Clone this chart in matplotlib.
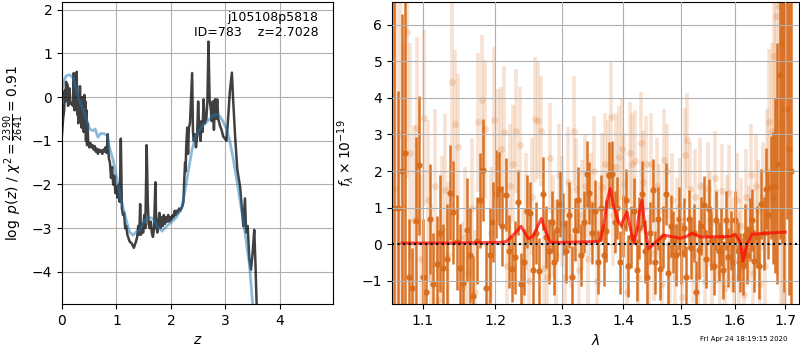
import numpy as np
import matplotlib
matplotlib.use("Agg")
import matplotlib.pyplot as plt
from matplotlib.ticker import NullLocator, FixedLocator, FixedFormatter

# ---- p(z) panel ----
z_pdf = [0.00, 0.02, 0.04, 0.05, 0.06, 0.075, 0.085, 0.095, 0.11, 0.125,
         0.14, 0.15, 0.165, 0.18, 0.20, 0.215, 0.225, 0.235, 0.245, 0.26,
         0.27, 0.28, 0.29, 0.30, 0.31, 0.32, 0.33, 0.34, 0.35, 0.36,
         0.37, 0.38, 0.39, 0.40, 0.41, 0.42, 0.43, 0.44, 0.45, 0.46,
         0.47, 0.48, 0.50, 0.52, 0.54, 0.56, 0.58, 0.60, 0.62, 0.64,
         0.66, 0.68, 0.70, 0.72, 0.74, 0.76, 0.78, 0.80, 0.82, 0.84,
         0.86, 0.88, 0.90, 0.92, 0.94, 0.96, 0.98, 1.00, 1.02, 1.04,
         1.06, 1.08, 1.10, 1.12, 1.14, 1.16, 1.18, 1.20, 1.24, 1.28,
         1.32, 1.36, 1.38, 1.40, 1.42, 1.435, 1.45, 1.47, 1.49, 1.51,
         1.53, 1.555, 1.575, 1.59, 1.61, 1.63, 1.65, 1.67, 1.69, 1.715,
         1.73, 1.75, 1.77, 1.79, 1.81, 1.83, 1.85, 1.87, 1.89, 1.91,
         1.93, 1.95, 1.97, 1.99, 2.01, 2.03, 2.05, 2.07, 2.09, 2.11,
         2.13, 2.15, 2.17, 2.19, 2.21, 2.23, 2.245, 2.26, 2.27, 2.28,
         2.30, 2.315, 2.33, 2.35, 2.37, 2.39, 2.405, 2.42, 2.44, 2.46,
         2.48, 2.50, 2.52, 2.545, 2.56, 2.58, 2.60, 2.62, 2.65, 2.67,
         2.69, 2.71, 2.73, 2.75, 2.77, 2.79, 2.81, 2.83, 2.85, 2.87,
         2.90, 2.93, 2.96, 2.99, 3.02, 3.05, 3.08, 3.12, 3.14, 3.18,
         3.22, 3.27, 3.31, 3.33, 3.36, 3.38, 3.41, 3.44, 3.47, 3.50,
         3.53, 3.55, 3.58]
logp = [-0.85, -0.50, -0.30, 0.15, -0.10, 0.35, 0.00, 0.30, -0.20, -0.15,
        0.20, -0.15, -0.13, -0.15, -0.20, 0.55, -0.30, 0.10, -0.25, -0.30,
        0.58, -0.40, 0.05, -0.60, -0.20, -0.45, 0.25, -0.55, -0.10, -0.70,
        0.00, -0.65, -0.05, -0.80, 0.05, -0.75, -0.10, -1.00, -0.30, -1.10,
        -0.60, -1.00, -1.15, -1.05, -1.15, -1.10, -1.20, -1.12, -1.25, -1.18,
        -1.30, -1.20, -1.25, -1.22, -1.30, -1.20, -1.25, -1.15, -1.28, -0.85,
        -1.40, -1.50, -1.85, -1.60, -2.00, -1.80, -2.20, -2.05, -2.30, -2.00,
        -2.40, -0.95, -2.55, -2.70, -2.65, -3.00, -2.95, -3.15, -3.30, -3.35,
        -3.45, -3.30, -3.20, -2.95, -3.15, -2.45, -3.15, -2.90, -3.10, -2.70,
        -3.00, -1.10, -2.40, -2.90, -3.00, -2.85, -3.10, -3.20, -3.00, -1.95,
        -2.90, -3.10, -2.85, -2.65, -3.00, -2.75, -2.95, -2.70, -2.90, -2.75,
        -2.85, -2.70, -2.85, -2.75, -2.80, -2.70, -2.75, -2.60, -2.70, -2.60,
        -2.65, -2.55, -2.60, -2.55, -2.50, -2.40, -1.90, -1.50, -1.70, -1.15,
        -0.70, -1.30, -0.70, -0.60, -0.05, 0.55, -0.80, -1.00, -0.85, -1.15,
        -0.90, -0.10, -0.75, -1.00, -0.55, -0.80, -0.05, -0.60, -0.50, -0.10,
        1.27, -0.05, -0.25, -0.55, -0.10, -0.75, -0.05, -0.50, -0.05, -0.50,
        -0.65, -0.75, -0.90, -0.95, -1.00, -0.50, 0.10, 0.56, 0.00, -0.92,
        -1.67, -2.05, -2.66, -2.96, -2.32, -3.10, -2.95, -3.72, -3.95, -3.57,
        -3.04, -3.72, -5.00]

z_smooth = [0.00, 0.03, 0.08, 0.14, 0.20, 0.25, 0.32, 0.42, 0.51, 0.57,
            0.61, 0.66, 0.71, 0.78, 0.83, 0.87, 0.94, 1.00, 1.06, 1.12,
            1.18, 1.24, 1.30, 1.36, 1.43, 1.49, 1.58, 1.67, 1.76, 1.84,
            1.91, 2.01, 2.10, 2.19, 2.25, 2.31, 2.39, 2.46, 2.56, 2.65,
            2.74, 2.83, 2.89, 2.95, 3.02, 3.08, 3.14, 3.20, 3.26, 3.32,
            3.38, 3.44, 3.50, 3.52]
logp_smooth = [0.14, 0.37, 0.49, 0.51, 0.45, 0.22, -0.08, -0.39, -0.73, -0.77,
               -0.73, -0.92, -0.83, -0.84, -0.88, -1.15, -1.45, -1.83, -2.21, -2.52,
               -2.82, -3.09, -3.16, -3.09, -3.05, -2.88, -2.75, -2.78, -2.97, -3.07,
               -2.97, -2.86, -2.75, -2.56, -2.21, -1.76, -1.19, -0.88, -0.69, -0.58,
               -0.46, -0.39, -0.43, -0.54, -0.73, -1.00, -1.38, -1.83, -2.29, -2.75,
               -3.28, -3.81, -4.72, -5.00]

# ---- spectrum panel ----
wave_dark = [1.0633, 1.0679, 1.0725, 1.0771, 1.0817, 1.0863, 1.0909, 1.0955, 1.1001, 1.1047,
             1.1093, 1.1139, 1.1185, 1.1231, 1.1277, 1.1323, 1.1369, 1.1415, 1.1461, 1.1507,
             1.1553, 1.1599, 1.1645, 1.1691, 1.1737, 1.1783, 1.1829, 1.1875, 1.1921, 1.1967,
             1.2013, 1.2059, 1.2105, 1.2151, 1.2197, 1.2243, 1.2289, 1.2335, 1.2381, 1.2427,
             1.2473, 1.2519, 1.2565, 1.2611, 1.2657, 1.2703, 1.2749, 1.2795, 1.2841, 1.2887,
             1.2933, 1.2979, 1.3025, 1.3071, 1.3117, 1.3163, 1.3209, 1.3255, 1.3301, 1.3347,
             1.3393, 1.3439, 1.3485, 1.3531, 1.3577, 1.3623, 1.3669, 1.3715, 1.3761, 1.3807,
             1.3853, 1.3899, 1.3945, 1.3991, 1.4037, 1.4083, 1.4129, 1.4175, 1.4221, 1.4267,
             1.4313, 1.4359, 1.4405, 1.4451, 1.4497, 1.4543, 1.4589, 1.4635, 1.4681, 1.4727,
             1.4773, 1.4819, 1.4865, 1.4911, 1.4957, 1.5003, 1.5049, 1.5095, 1.5141, 1.5187,
             1.5233, 1.5279, 1.5325, 1.5371, 1.5417, 1.5463, 1.5509, 1.5555, 1.5601, 1.5647,
             1.5693, 1.5739, 1.5785, 1.5831, 1.5877, 1.5923, 1.5969, 1.6015, 1.6061, 1.6107,
             1.6153, 1.6199, 1.6245, 1.6291, 1.6337, 1.6383, 1.6429, 1.6475, 1.6521, 1.6567,
             1.6613, 1.6659, 1.6705, 1.6751, 1.6797, 1.6843, 1.6889, 1.6935, 1.6981, 1.7027,
             1.7073, 1.7119]
flux_dark = [1.00, 1.00, 2.00, 2.48, -0.90, -1.20, 0.63, 2.16, -0.90, -1.30,
             0.68, -1.10, -0.53, 0.30, -0.66, -0.40, 1.41, 0.87, 0.05, -0.66,
             -1.05, 0.40, -0.30, -1.42, 0.10, 1.20, 2.03, -1.20, -0.30, 0.60,
             1.38, 1.52, 0.50, 1.35, -0.20, -0.67, -0.36, 1.14, -1.09, -0.48,
             0.90, 0.85, -0.70, 0.30, -0.73, 1.38, 0.20, -0.20, 0.60, -0.50,
             0.38, 1.10, 0.55, -0.20, 0.80, -0.90, 0.40, 1.20, -0.30, 0.60,
             1.93, 1.40, 0.30, 0.90, -0.50, 1.00, -0.30, 0.35, 1.90, 1.93,
             0.60, 1.00, -0.50, 0.50, 1.20, -0.60, 0.20, 0.90, -0.70, 0.45,
             1.38, -0.20, -0.90, 0.30, 1.47, -0.50, 0.70, -0.67, 0.20, 1.38,
             -0.80, 0.50, 0.05, -0.30, 0.70, -0.25, 0.45, -0.89, 0.68, -0.10,
             0.30, -1.30, -0.15, 0.50, 1.06, -0.40, 0.97, 0.10, -0.60, 0.65,
             -0.20, 0.20, -0.70, 0.65, -0.36, 0.10, -0.50, 0.65, -0.20, -0.50,
             -0.60, 0.25, -0.30, 0.40, 0.65, -0.45, 0.20, -0.60, 1.10, 0.30,
             1.52, 0.80, 1.55, 1.27, 1.60, 2.20, 4.64, 5.50, 3.70, 3.70,
             2.60, 2.00]
err_dark = [9.0, 3.2, 4.3, 5.0, 1.6, 1.1, 2.3, 1.9, 1.6, 1.3,
            1.5, 1.4, 1.3, 1.6, 1.2, 1.5, 1.3, 1.4, 1.3, 1.2,
            1.1, 1.4, 1.3, 1.1, 1.2, 1.3, 1.4, 1.2, 1.3, 1.1,
            1.2, 1.0, 1.1, 1.0, 1.0, 0.9, 1.0, 0.9, 0.85, 0.9,
            1.0, 0.85, 1.0, 0.85, 0.9, 1.0, 0.85, 0.9, 0.85, 0.9,
            0.85, 0.9, 0.85, 0.85, 0.9, 0.85, 0.85, 0.9, 0.85, 0.85,
            0.9, 0.85, 0.85, 0.85, 0.85, 0.9, 0.85, 0.85, 0.9, 0.9,
            0.85, 0.85, 0.85, 0.85, 0.85, 0.85, 0.85, 0.9, 0.85, 0.85,
            0.9, 0.85, 0.85, 0.85, 0.85, 0.85, 0.85, 0.85, 0.85, 0.85,
            0.85, 0.85, 0.85, 0.85, 0.85, 0.85, 0.8, 0.85, 0.8, 0.85,
            0.8, 0.85, 0.8, 0.8, 0.8, 0.8, 0.8, 0.8, 0.8, 0.8,
            0.8, 0.8, 0.8, 0.8, 0.8, 0.8, 0.8, 0.8, 0.8, 0.8,
            0.8, 0.85, 0.8, 0.85, 0.85, 0.85, 0.85, 0.9, 0.95, 1.0,
            1.1, 1.2, 1.4, 1.8, 2.4, 3.3, 4.5, 5.5, 5.0, 3.0,
            4.0, 9.0]

wave_light = [1.0656, 1.0702, 1.0748, 1.0794, 1.0840, 1.0886, 1.0932, 1.0978, 1.1024, 1.1070,
              1.1116, 1.1162, 1.1208, 1.1254, 1.1300, 1.1346, 1.1392, 1.1438, 1.1484, 1.1530,
              1.1576, 1.1622, 1.1668, 1.1714, 1.1760, 1.1806, 1.1852, 1.1898, 1.1944, 1.1990,
              1.2036, 1.2082, 1.2128, 1.2174, 1.2220, 1.2266, 1.2312, 1.2358, 1.2404, 1.2450,
              1.2496, 1.2542, 1.2588, 1.2634, 1.2680, 1.2726, 1.2772, 1.2818, 1.2864, 1.2910,
              1.2956, 1.3002, 1.3048, 1.3094, 1.3140, 1.3186, 1.3232, 1.3278, 1.3324, 1.3370,
              1.3416, 1.3462, 1.3508, 1.3554, 1.3600, 1.3646, 1.3692, 1.3738, 1.3784, 1.3830,
              1.3876, 1.3922, 1.3968, 1.4014, 1.4060, 1.4106, 1.4152, 1.4198, 1.4244, 1.4290,
              1.4336, 1.4382, 1.4428, 1.4474, 1.4520, 1.4566, 1.4612, 1.4658, 1.4704, 1.4750,
              1.4796, 1.4842, 1.4888, 1.4934, 1.4980, 1.5026, 1.5072, 1.5118, 1.5164, 1.5210,
              1.5256, 1.5302, 1.5348, 1.5394, 1.5440, 1.5486, 1.5532, 1.5578, 1.5624, 1.5670,
              1.5716, 1.5762, 1.5808, 1.5854, 1.5900, 1.5946, 1.5992, 1.6038, 1.6084, 1.6130,
              1.6176, 1.6222, 1.6268, 1.6314, 1.6360, 1.6406, 1.6452, 1.6498, 1.6544, 1.6590,
              1.6636, 1.6682, 1.6728, 1.6774, 1.6820, 1.6866, 1.6912, 1.6958, 1.7004]
flux_light = [1.50, 3.00, 1.00, 5.80, 2.50, 0.65, 3.17, -0.40, 3.45, 1.20,
              -0.90, 1.60, -1.53, 0.40, 1.47, -0.30, 4.43, 3.30, 2.65, -1.20,
              0.20, -0.80, 1.00, -1.30, 3.34, 3.93, 3.15, -1.60, 0.30, 3.40,
              2.43, 2.60, 3.08, -0.60, 1.60, 2.20, 3.10, 2.70, -0.50, 0.90,
              -1.00, 1.30, 3.41, 3.38, 3.10, -0.66, -0.90, 2.35, 0.50, -0.30,
              1.90, 0.90, -0.90, 1.70, 0.20, 3.10, 1.50, -0.70, 0.80, 1.60,
              -0.40, 1.10, 2.00, -1.00, 0.30, 1.55, 2.20, 1.90, 3.47, 0.80,
              2.10, 2.38, 2.60, 1.65, -1.30, 2.50, 2.20, 2.27, -0.90, 2.77,
              1.70, 2.20, -0.50, 2.20, -0.25, 1.60, 0.90, -1.10, 2.29, 2.00,
              -0.30, 1.20, -0.90, 0.50, 1.05, -1.45, 2.43, 2.84, 1.50, -0.30,
              1.30, -0.90, 1.60, 0.40, -1.00, 1.50, 0.70, -0.60, 1.80, 0.20,
              -0.80, 1.45, -1.20, 0.60, 1.40, 0.00, -0.90, 1.20, -0.40, 0.50,
              -1.40, 1.30, 0.30, 1.90, -0.80, 1.60, 0.90, -1.10, 1.30, -0.60,
              2.00, 3.34, 3.10, 5.15, 6.25, 6.50, 3.30, 3.00, 2.00]
err_light = [8.0, 6.0, 4.5, 4.0, 3.0, 2.6, 2.5, 2.3, 2.4, 2.2,
             2.0, 2.1, 1.9, 2.0, 2.1, 2.0, 2.2, 2.0, 2.0, 1.8,
             1.9, 1.8, 1.9, 1.7, 1.9, 1.8, 1.9, 1.7, 1.8, 2.0,
             1.8, 1.7, 1.8, 1.6, 1.7, 1.6, 1.7, 1.6, 1.5, 1.6,
             1.5, 1.6, 1.7, 1.6, 1.5, 1.5, 1.4, 1.5, 1.4, 1.5,
             1.4, 1.5, 1.4, 1.5, 1.4, 1.5, 1.4, 1.4, 1.5, 1.4,
             1.5, 1.4, 1.5, 1.4, 1.4, 1.5, 1.4, 1.5, 1.5, 1.4,
             1.5, 1.4, 1.4, 1.4, 1.4, 1.4, 1.4, 1.4, 1.3, 1.4,
             1.4, 1.3, 1.3, 1.4, 1.3, 1.3, 1.3, 1.3, 1.4, 1.3,
             1.3, 1.3, 1.3, 1.3, 1.3, 1.3, 1.3, 1.3, 1.3, 1.3,
             1.3, 1.3, 1.3, 1.3, 1.3, 1.3, 1.3, 1.3, 1.3, 1.3,
             1.3, 1.3, 1.3, 1.3, 1.3, 1.3, 1.3, 1.3, 1.3, 1.3,
             1.3, 1.3, 1.3, 1.4, 1.3, 1.4, 1.4, 1.4, 1.5, 1.6,
             1.7, 2.0, 2.4, 3.0, 4.0, 5.0, 6.0, 7.0, 8.0]

model_wave = [1.073, 1.12, 1.17, 1.21, 1.217, 1.228, 1.238, 1.244, 1.249, 1.256,
              1.262, 1.2685, 1.275, 1.282, 1.30, 1.33, 1.355, 1.3615, 1.368, 1.373,
              1.378, 1.384, 1.3917, 1.396, 1.401, 1.406, 1.412, 1.4176, 1.422, 1.427,
              1.4314, 1.437, 1.4428, 1.4544, 1.469, 1.4989, 1.511, 1.52, 1.535, 1.56,
              1.5915, 1.601, 1.611, 1.6158, 1.624, 1.633, 1.66, 1.70]
model_flux = [0.03, 0.03, 0.04, 0.05, 0.08, 0.28, 0.49, 0.30, 0.15, 0.22,
              0.45, 0.70, 0.35, 0.05, 0.05, 0.06, 0.07, 0.10, 0.60, 1.20,
              1.52, 1.00, 0.61, 0.52, 0.70, 0.88, 0.40, 0.04, 0.30, 0.90,
              1.20, 0.40, -0.12, 0.04, 0.25, 0.16, 0.22, 0.30, 0.20, 0.20,
              0.21, 0.27, 0.05, -0.46, 0.00, 0.27, 0.30, 0.33]

wave_ticks = [1.1, 1.2, 1.3, 1.4, 1.5, 1.6, 1.7]

orange = '#d86c1c'

fig = plt.figure(figsize=(8, 3.5), dpi=100)
ax1 = fig.add_axes([0.0775, 0.131, 0.339, 0.863])
ax2 = fig.add_axes([0.49, 0.131, 0.509, 0.863])

# p(z)
ax1.plot(z_pdf, logp, color='k', alpha=0.75, lw=1.8)
ax1.plot(z_smooth, logp_smooth, color='tab:blue', alpha=0.5, lw=2)
ax1.set_xlim(0, 4.98)
ax1.set_ylim(-4.74, 2.175)
ax1.set_xticks([0, 1, 2, 3, 4])
ax1.set_yticks([-4, -3, -2, -1, 0, 1, 2])
ax1.grid()
ax1.set_xlabel(r'$z$')
ax1.set_ylabel(r'$\log\ p(z)$ / $\chi^2=\frac{2390}{2641}=0.91$')
ax1.text(0.945, 0.97, 'j105108p5818\nID=783    z=2.7028', transform=ax1.transAxes,
         ha='right', va='top', fontsize=9)

# spectrum
ax2.errorbar(wave_light, flux_light, yerr=err_light, marker='o', ms=5, ls='none',
             color=orange, alpha=0.2, elinewidth=2.6, mew=0)
ax2.errorbar(wave_dark, flux_dark, yerr=err_dark, marker='o', ms=4.5, ls='none',
             color=orange, alpha=0.95, elinewidth=1.8, mew=0)
ax2.plot(model_wave, model_flux, color='r', alpha=0.7, lw=2.2, zorder=5)
ax2.axhline(0, color='k', ls=':', lw=1.5, zorder=6)

ax2.set_xscale('log')
ax2.set_xlim(1.0603, 1.7288)
ax2.set_ylim(-1.64, 6.62)
ax2.xaxis.set_major_locator(FixedLocator(wave_ticks))
ax2.xaxis.set_major_formatter(FixedFormatter([f'{w:.1f}' for w in wave_ticks]))
ax2.xaxis.set_minor_locator(NullLocator())
ax2.set_yticks([-1, 0, 1, 2, 3, 4, 5, 6])
ax2.grid()
ax2.set_axisbelow(False)
ax2.set_xlabel(r'$\lambda$')
ax2.set_ylabel(r'$f_\lambda \times 10^{-19}$')

fig.text(0.985, 0.022, 'Fri Apr 24 18:19:15 2020', ha='right', va='bottom', fontsize=5)

fig.savefig('out.png', dpi=100)
